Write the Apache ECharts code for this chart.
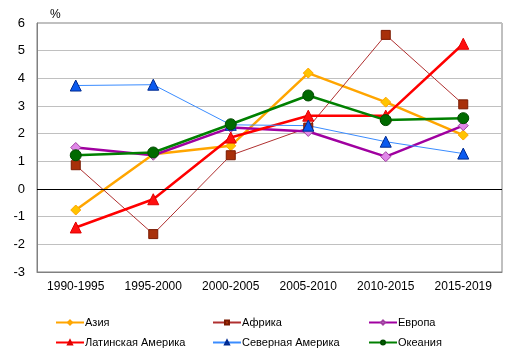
<!DOCTYPE html>
<html><head><meta charset="utf-8">
<script src="https://cdn.jsdelivr.net/npm/echarts@6/dist/echarts.min.js"></script>
<style>html,body{margin:0;padding:0;background:#fff}#c{width:517px;height:359px}</style>
</head><body><div id="c"></div>
<script>
const categories = ['1990-1995','1995-2000','2000-2005','2005-2010','2010-2015','2015-2019'];
const asia = [-0.76, 1.26, 1.56, 4.19, 3.14, 1.95];
const africa = [0.86, -1.63, 1.22, 2.22, 5.57, 3.06];
const europe = [1.50, 1.22, 2.22, 2.08, 1.17, 2.29];
const latam = [-1.39, -0.37, 1.86, 2.65, 2.65, 5.25];
const northAm = [3.74, 3.77, 2.32, 2.29, 1.71, 1.28];
const oceania = [1.22, 1.32, 2.34, 3.38, 2.49, 2.56];
const names = ['Азия','Африка','Европа','Латинская Америка','Северная Америка','Океания'];
const yTicks = [-3,-2,-1,0,1,2,3,4,5,6];

const font = 'Arial, "Liberation Sans", sans-serif';
function s(name, data, lineColor, lw, sym, symSize, fill, border) {
  return {
    name, type: 'line', data,
    symbol: sym, symbolSize: symSize,
    lineStyle: {color: lineColor, width: lw},
    itemStyle: {color: fill, borderColor: border, borderWidth: 1},
    color: lineColor,
    z: 3
  };
}
const series = [
  s(names[0], asia, '#FFA500', 2.5, 'diamond', 10, '#FFC400', '#FFA500'),
  s(names[1], africa, '#B03030', 1, 'rect', 9, '#A8300A', '#7A1A00'),
  s(names[2], europe, '#A000A0', 2.5, 'diamond', 10, '#E088E8', '#A040A0'),
  s(names[3], latam, '#FF0000', 2.5, 'triangle', 11, '#FF1010', '#E00000'),
  s(names[4], northAm, '#3A8CFF', 1, 'triangle', 11, '#0A5AF0', '#002A90'),
  s(names[5], oceania, '#008000', 2.5, 'circle', 11, '#006A00', '#004A00')
];
series[0].markLine = {silent: true, symbol: 'none', label: {show: false},
  lineStyle: {color: '#000', width: 1, type: 'solid'}, data: [{yAxis: 0}], animation: false};

function leg(items, left) {
  return {
    data: items, orient: 'vertical', left, top: 312, itemGap: 9,
    itemWidth: 28, itemHeight: 5,
    textStyle: {fontFamily: font, fontSize: 11, color: '#000', padding: [0,0,0,-4]},
    selectedMode: false
  };
}
const chart = echarts.init(document.getElementById('c'), null, {renderer: 'canvas'});
chart.setOption({
  animation: false,
  backgroundColor: '#fff',
  grid: {left: 37, top: 23, width: 465, height: 249, show: true, borderColor: '#808080', borderWidth: 1},
  graphic: [{type: 'text', left: 50, top: 9, style: {text: '%', font: '12px ' + font, fill: '#000'}}],
  legend: [leg([names[0], names[3]], 50), leg([names[1], names[4]], 207), leg([names[2], names[5]], 363)],
  xAxis: {
    type: 'category', data: categories, boundaryGap: true,
    axisLine: {onZero: false, lineStyle: {color: '#808080'}},
    axisTick: {show: false},
    axisLabel: {fontFamily: font, fontSize: 12, color: '#000', margin: 9}
  },
  yAxis: {
    type: 'value', min: -3, max: 6, interval: 1,
    axisLine: {show: true, lineStyle: {color: '#808080'}},
    axisTick: {show: false},
    splitLine: {lineStyle: {color: '#C0C0C0'}},
    axisLabel: {fontFamily: font, fontSize: 13, color: '#000', margin: 12,
      formatter: v => yTicks.includes(v) ? String(v) : ''}
  },
  series
});
</script></body></html>
